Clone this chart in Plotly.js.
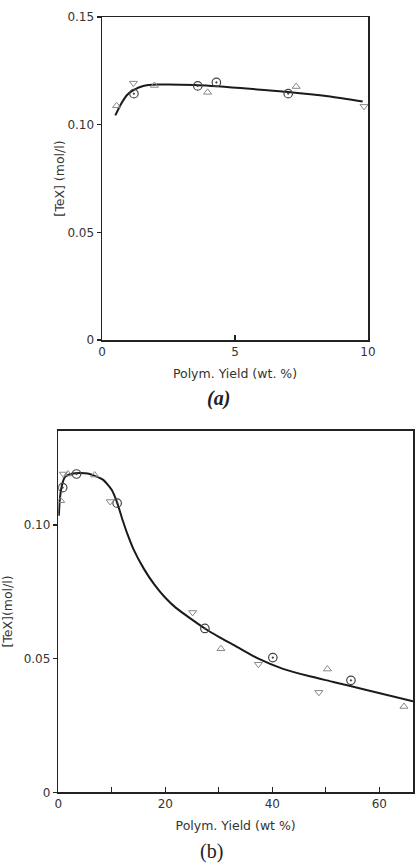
<!DOCTYPE html>
<html>
<head>
<meta charset="utf-8">
<script src="https://cdn.plot.ly/plotly-3.0.1.min.js"></script>
<style>html,body{margin:0;padding:0;background:#fff;}#chart{width:415px;height:866px;}</style>
</head>
<body>
<div id="chart"></div>
<script>
// ---- Panel (a) data ----
const aCircX = [1.2, 3.6, 4.3, 7.0];
const aCircY = [0.1144, 0.1180, 0.1196, 0.1144];
const aTriUpX = [0.55, 1.97, 3.97, 7.3];
const aTriUpY = [0.1088, 0.1182, 0.1150, 0.1177];
const aTriDnX = [1.18, 9.85];
const aTriDnY = [0.1193, 0.1085];
const aCurveX = [0.5, 0.7, 0.95, 1.2, 1.55, 2.1, 3.5, 5.2, 7.0, 8.5, 9.8];
const aCurveY = [0.1043, 0.1093, 0.1139, 0.1162, 0.1180, 0.1186, 0.1184, 0.1170, 0.1152, 0.1132, 0.1108];
const aXTickVals = [0, 5, 10];
const aXTickText = ['0', '5', '10'];
const aYTickVals = [0, 0.05, 0.10, 0.15];
const aYTickText = ['0', '0.05', '0.10', '0.15'];

// ---- Panel (b) data ----
const bCircX = [0.82, 3.4, 11.0, 27.4, 40.1, 54.7];
const bCircY = [0.1140, 0.1191, 0.1082, 0.0613, 0.0504, 0.0419];
const bTriUpX = [0.45, 1.8, 6.8, 30.4, 50.3, 64.6];
const bTriUpY = [0.1091, 0.1191, 0.1187, 0.0537, 0.0461, 0.0321];
const bTriDnX = [0.94, 9.7, 25.1, 37.4, 48.7];
const bTriDnY = [0.1191, 0.1088, 0.0673, 0.0479, 0.0374];
const bCurveX = [0.1, 0.3, 0.7, 1.25, 2.5, 4, 5.5, 6.7, 8.4, 10, 11, 12, 13, 14, 16, 18, 20, 22, 27.4, 30, 33, 37.4, 42, 47, 51.4, 57.6, 66.3];
const bCurveY = [0.1035, 0.1100, 0.1150, 0.1180, 0.1192, 0.1195, 0.1193, 0.1185, 0.1169, 0.1131, 0.1084, 0.1020, 0.0962, 0.0912, 0.0836, 0.0776, 0.0728, 0.0690, 0.0613, 0.0582, 0.0549, 0.0500, 0.0462, 0.0434, 0.0413, 0.0383, 0.0341];
const bXTickVals = [0, 10, 20, 30, 40, 50, 60];
const bXTickText = ['0', '', '20', '', '40', '', '60'];
const bYTickVals = [0, 0.05, 0.10];
const bYTickText = ['0', '0.05', '0.10'];

const W = 415, H = 866;
const circM = {symbol: 'circle-open-dot', size: 8.5, color: '#444', line: {width: 1.2, color: '#444'}};
const upM = {symbol: 'triangle-up-open', size: 7, color: '#888', line: {width: 1, color: '#888'}};
const dnM = {symbol: 'triangle-down-open', size: 7, color: '#888', line: {width: 1, color: '#888'}};
const curveL = {color: '#1a1a1a', width: 2, shape: 'spline', smoothing: 0.6};

const traces = [
  {x: aCurveX, y: aCurveY, mode: 'lines', line: curveL, xaxis: 'x', yaxis: 'y', hoverinfo: 'skip'},
  {x: aCircX, y: aCircY, mode: 'markers', marker: circM, xaxis: 'x', yaxis: 'y'},
  {x: aTriUpX, y: aTriUpY, mode: 'markers', marker: upM, xaxis: 'x', yaxis: 'y'},
  {x: aTriDnX, y: aTriDnY, mode: 'markers', marker: dnM, xaxis: 'x', yaxis: 'y'},
  {x: bCurveX, y: bCurveY, mode: 'lines', line: curveL, xaxis: 'x2', yaxis: 'y2', hoverinfo: 'skip'},
  {x: bCircX, y: bCircY, mode: 'markers', marker: circM, xaxis: 'x2', yaxis: 'y2'},
  {x: bTriUpX, y: bTriUpY, mode: 'markers', marker: upM, xaxis: 'x2', yaxis: 'y2'},
  {x: bTriDnX, y: bTriDnY, mode: 'markers', marker: dnM, xaxis: 'x2', yaxis: 'y2'}
];

const tickFont = {family: 'DejaVu Sans', size: 12, color: '#333'};
const titleFont = {family: 'DejaVu Sans', size: 12.5, color: '#333'};
const axBase = {showline: true, linecolor: '#222', linewidth: 1.5, mirror: true, showgrid: false, zeroline: false, tickfont: tickFont, tickcolor: '#222', tickwidth: 1.2, fixedrange: true, automargin: false};

const layout = {
  width: W, height: H,
  margin: {l: 0, r: 0, t: 0, b: 0},
  paper_bgcolor: '#fff', plot_bgcolor: '#fff',
  showlegend: false,
  xaxis: Object.assign({}, axBase, {
    domain: [102 / W, 368 / W], anchor: 'y', range: [0, 10],
    tickmode: 'array', tickvals: aXTickVals, ticktext: aXTickText,
    ticks: 'inside', ticklen: 5,
    title: {text: 'Polym. Yield (wt. %)', font: titleFont, standoff: 11}
  }),
  yaxis: Object.assign({}, axBase, {
    domain: [1 - 340 / H, 1 - 17 / H], anchor: 'x', range: [0, 0.15],
    tickmode: 'array', tickvals: aYTickVals, ticktext: aYTickText,
    ticks: 'outside', ticklen: 4,
    title: {text: '[TeX] (mol/l)', font: titleFont, standoff: 0}
  }),
  xaxis2: Object.assign({}, axBase, {
    domain: [58.3 / W, 413 / W], anchor: 'y2', range: [0, 66.3],
    tickmode: 'array', tickvals: bXTickVals, ticktext: bXTickText,
    ticks: 'inside', ticklen: 5,
    title: {text: 'Polym. Yield (wt %)', font: titleFont, standoff: 11}
  }),
  yaxis2: Object.assign({}, axBase, {
    domain: [1 - 792.3 / H, 1 - 430.7 / H], anchor: 'x2', range: [0, 0.1353],
    tickmode: 'array', tickvals: bYTickVals, ticktext: bYTickText,
    ticks: 'outside', ticklen: 4,
    title: {text: '[TeX](mol/l)', font: titleFont, standoff: 11}
  }),
  annotations: [
    {text: '<b><i>(a)</i></b>', xref: 'paper', yref: 'paper', x: 218 / W, y: 1 - 398 / H, showarrow: false,
     xanchor: 'center', yanchor: 'middle', font: {family: 'Liberation Serif', size: 20, color: '#222'}},
    {text: '(b)', xref: 'paper', yref: 'paper', x: 211 / W, y: 1 - 851 / H, showarrow: false,
     xanchor: 'center', yanchor: 'middle', font: {family: 'Liberation Serif', size: 20, color: '#222'}}
  ]
};

Plotly.newPlot('chart', traces, layout, {displayModeBar: false, staticPlot: true});
</script>
</body>
</html>
